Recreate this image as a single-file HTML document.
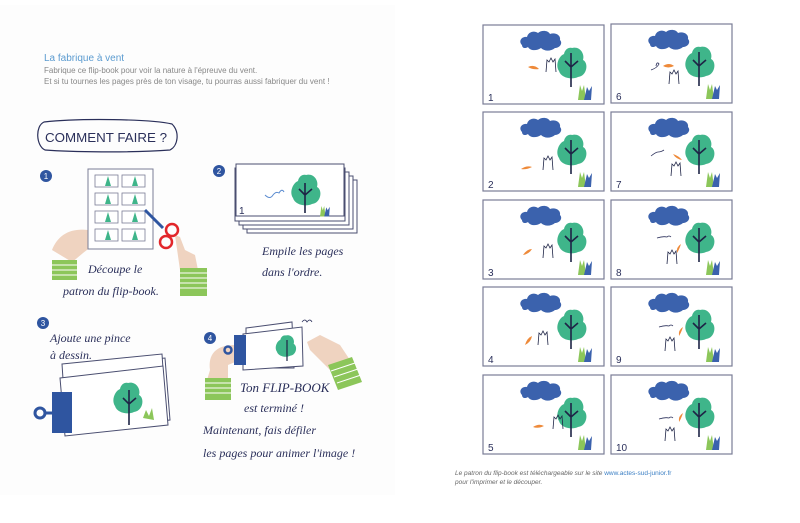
<!DOCTYPE html>
<html><head><meta charset="utf-8"><style>
html,body{margin:0;padding:0;background:#fff;}
body{width:800px;height:523px;overflow:hidden;position:relative;font-family:"Liberation Sans",sans-serif;}
.t{position:absolute;white-space:nowrap;}
.hw{font-family:"Liberation Serif",serif;font-style:italic;color:#2a2f5a;font-size:12px;}
</style></head><body>
<div style="position:absolute;left:0;top:5px;width:395px;height:490px;background:#fdfdfd"></div>
<div class="t" style="left:44px;top:53px;font-size:10px;color:#5b9bd0">La fabrique à vent</div>
<div class="t" style="left:44px;top:66px;font-size:8px;color:#888">Fabrique ce flip-book pour voir la nature à l'épreuve du vent.</div>
<div class="t" style="left:44px;top:77px;font-size:8px;color:#888">Et si tu tournes les pages près de ton visage, tu pourras aussi fabriquer du vent !</div>

<svg width="800" height="523" style="position:absolute;left:0;top:0">
<defs>
 <g id="tree">
  <path d="M0,-15 C8,-17 13,-9 11,-3 C17,0 15,13 6,14 C0,17 -11,15 -13,8 C-17,2 -13,-7 -8,-9 C-7,-14 -3,-16 0,-15Z" fill="#3fb58a"/>
 </g>
 <g id="cloud"><path d="M2,14 C-2,10 2,5 7,6 C8,1 14,-1 18,2 C21,-1 28,-1 30,3 C35,1 41,4 40,9 C43,12 40,17 35,17 C30,21 24,20 21,17 C17,20 10,20 8,16 C5,18 2,17 2,14Z" fill="#3b62ad"/></g>
 <g id="grass"><path d="M0,15 L2,0 L4,6 L6,0 L8,15Z" fill="#8cc65a"/><path d="M6,15 L9,2 L11,6 L14,1 L13,15Z" fill="#3b62ad"/></g>
 <g id="frame">
  <rect x="0" y="0" width="121" height="79" fill="#fff" stroke="#7a7d96" stroke-width="1.2"/>
  <use href="#cloud" x="37" y="6"/>
  <use href="#tree" x="89" y="38"/>
  <path d="M88,28 V62 M88,42 L82,36 M88,42 L95,36" stroke="#1e2446" stroke-width="1.6" fill="none"/>
  <use href="#grass" x="95" y="60"/>
 </g>
 <g id="hand"><path d="M0,14 L1,2 L3,4 L5,0 L7,4 L9,1 L10,14" stroke="#1e2446" stroke-width="0.8" fill="none"/></g>
</defs>

<g font-family="Liberation Sans" font-size="10" fill="#2a2f5a">
<g transform="translate(483,25)"><use href="#frame"/><text x="5" y="76">1</text><path d="M45,42 q6,-3 11,2 q-6,1 -11,-2Z" fill="#ee8a3a"/><use href="#hand" x="63" y="33"/></g>
<g transform="translate(483,112)"><use href="#frame"/><text x="5" y="76">2</text><path d="M38,57 q6,-4 11,-2 q-6,3 -11,2Z" fill="#ee8a3a"/><use href="#hand" x="60" y="44"/></g>
<g transform="translate(483,200)"><use href="#frame"/><text x="5" y="76">3</text><path d="M40,55 q4,-6 9,-6 q-3,5 -9,6Z" fill="#ee8a3a"/><use href="#hand" x="60" y="44"/></g>
<g transform="translate(483,287)"><use href="#frame"/><text x="5" y="76">4</text><path d="M42,58 q2,-7 7,-9 q-1,6 -7,9Z" fill="#ee8a3a"/><use href="#hand" x="55" y="44"/></g>
<g transform="translate(483,375)"><use href="#frame"/><text x="5" y="76">5</text><path d="M50,52 q6,-4 11,-1 q-6,3 -11,1Z" fill="#ee8a3a"/><use href="#hand" x="70" y="40"/></g>
<g transform="translate(611,24)"><use href="#frame"/><text x="5" y="76">6</text><path d="M52,42 q6,-4 11,0 q-6,3 -11,0Z" fill="#ee8a3a"/><use href="#hand" x="58" y="46"/><path d="M40,46 q6,-2 8,-6 q-2,-3 -3,2" stroke="#2a2f5a" fill="none" stroke-width="0.8"/></g>
<g transform="translate(611,112)"><use href="#frame"/><text x="5" y="76">7</text><path d="M62,42 q6,2 9,6 q-6,-1 -9,-6Z" fill="#ee8a3a"/><use href="#hand" x="60" y="50"/><path d="M40,44 q5,-4 7,-4 q3,0 6,-2" stroke="#2a2f5a" fill="none" stroke-width="0.8"/></g>
<g transform="translate(611,200)"><use href="#frame"/><text x="5" y="76">8</text><path d="M70,44 q-2,6 -4,9 q-1,-6 4,-9Z" fill="#ee8a3a"/><use href="#hand" x="56" y="50"/><path d="M46,38 q6,-2 10,-1 q2,-2 4,0" stroke="#2a2f5a" fill="none" stroke-width="0.8"/></g>
<g transform="translate(611,287)"><use href="#frame"/><text x="5" y="76">9</text><path d="M72,40 q-2,6 -4,9 q-1,-6 4,-9Z" fill="#ee8a3a"/><use href="#hand" x="54" y="50"/><path d="M48,40 q6,-2 10,-1 q2,-2 4,0" stroke="#2a2f5a" fill="none" stroke-width="0.8"/></g>
<g transform="translate(611,375)"><use href="#frame"/><text x="5" y="76">10</text><path d="M72,38 q-2,6 -4,9 q-1,-6 4,-9Z" fill="#ee8a3a"/><use href="#hand" x="54" y="52"/><path d="M48,44 q6,-2 10,-1 q2,-2 4,0" stroke="#2a2f5a" fill="none" stroke-width="0.8"/></g>
</g>

<path d="M44,122 C80,118 150,119 172,124 C180,132 178,146 170,150 C130,153 70,152 45,150 C36,146 35,126 44,122Z" fill="none" stroke="#2a2f5a" stroke-width="1.2"/>
<text x="45" y="142" font-family="Liberation Sans" font-size="13" fill="#2a2f5a" textLength="122" lengthAdjust="spacingAndGlyphs">COMMENT FAIRE ?</text>

<g font-family="Liberation Sans" font-size="8" fill="#fff" text-anchor="middle">
<circle cx="46" cy="176" r="6" fill="#2f55a0"/><text x="46" y="179">1</text>
<circle cx="219" cy="171" r="6" fill="#2f55a0"/><text x="219" y="174">2</text>
<circle cx="43" cy="323" r="6" fill="#2f55a0"/><text x="43" y="326">3</text>
<circle cx="210" cy="338" r="6" fill="#2f55a0"/><text x="210" y="341">4</text>
</g>

<path d="M52,250 C58,235 70,228 88,230 L100,238 L95,245 C85,250 78,258 72,262 Z" fill="#efd3c0"/>
<path d="M175,235 L180,237 L185,250 L195,255 L198,270 L180,270 Z" fill="#efd3c0"/>
<rect x="88" y="169" width="65" height="80" fill="#fff" stroke="#7a7d96"/>
<g fill="#fff" stroke="#7a7d96" stroke-width="0.8">
<rect x="95" y="175" width="23" height="12"/><rect x="122" y="175" width="23" height="12"/>
<rect x="95" y="193" width="23" height="12"/><rect x="122" y="193" width="23" height="12"/>
<rect x="95" y="211" width="23" height="12"/><rect x="122" y="211" width="23" height="12"/>
<rect x="95" y="229" width="23" height="12"/><rect x="122" y="229" width="23" height="12"/>
</g>
<g fill="#3fb58a">
<path d="M108,176 l-3,10 h6z M135,176 l-3,10 h6z M108,194 l-3,10 h6z M135,194 l-3,10 h6z M108,212 l-3,10 h6z M135,212 l-3,10 h6z M108,230 l-3,10 h6z M135,230 l-3,10 h6z"/>
</g>
<path d="M145,210 L163,228" stroke="#2f55a0" stroke-width="3"/>
<circle cx="172" cy="230" r="6" fill="none" stroke="#e2262a" stroke-width="2.5"/>
<circle cx="166" cy="242" r="6" fill="none" stroke="#e2262a" stroke-width="2.5"/>
<rect x="52" y="260" width="25" height="20" fill="#8cc65a"/>
<rect x="180" y="268" width="27" height="28" fill="#8cc65a"/>
<g stroke="#fff" stroke-width="1"><path d="M52,265h25M52,270h25M52,275h25M180,273h27M180,278h27M180,283h27M180,288h27"/></g>

<g fill="#fff" stroke="#4a4e70" stroke-width="1">
<rect x="247" y="180" width="110" height="53"/><rect x="243" y="176" width="110" height="53"/><rect x="239" y="172" width="110" height="53"/><rect x="235" y="168" width="110" height="53"/><rect x="236" y="164" width="108" height="52"/>
</g>
<use href="#tree" x="306" y="190"/>
<path d="M305,183 V213 M305,195 L299,189 M305,195 L312,189" stroke="#1e2446" stroke-width="1.6" fill="none"/>
<g transform="translate(320,206) scale(0.7)"><use href="#grass"/></g>
<path d="M265,195 q5,5 8,0 q3,-4 6,-2 q3,-5 5,-1" stroke="#5b8cd0" fill="none" stroke-width="1"/>
<text x="239" y="214" font-family="Liberation Sans" font-size="10" fill="#2a2f5a">1</text>

<g fill="#fff" stroke="#4a4e70" stroke-width="1">
<path d="M65,368 L165,358 L170,420 L70,430 Z"/>
<path d="M62,364 L162,354 L166,414 L66,424 Z"/>
<path d="M60,378 L163,366 L168,425 L65,436 Z"/>
</g>
<use href="#tree" x="128" y="398"/>
<path d="M129,390 V425 M129,404 L123,398 M129,404 L136,398" stroke="#1e2446" stroke-width="1.6" fill="none"/>
<path d="M143,418 l3,-8 l3,6 l3,-8 l2,12z" fill="#8cc65a"/>
<rect x="52" y="392" width="20" height="41" fill="#2f55a0"/>
<circle cx="40" cy="413" r="5" fill="none" stroke="#2f55a0" stroke-width="3"/>
<path d="M45,413h8" stroke="#2f55a0" stroke-width="3"/>

<path d="M210,370 C208,355 215,345 235,345 L240,360 L228,365 L228,380 L207,380 Z" fill="#efd3c0"/>
<path d="M307,342 L320,335 L340,345 L350,360 L330,370 L310,350 Z" fill="#efd3c0"/>
<rect x="205" y="378" width="26" height="22" fill="#8cc65a"/>
<path d="M328,365 L352,357 L362,382 L338,390 Z" fill="#8cc65a"/>
<g stroke="#fff" stroke-width="1"><path d="M205,383h26M205,388h26M205,393h26M331,371l24,-8M334,377l24,-8M337,383l24,-8"/></g>
<g fill="#fff" stroke="#4a4e70" stroke-width="1">
<path d="M246,328 L292,322 L294,368 L246,368Z"/>
<path d="M243,334 L302,327 L303,366 L243,370Z"/>
</g>
<use href="#tree" x="286" y="346" transform="translate(286,346) scale(0.7) translate(-286,-346)"/>
<path d="M287,340 V361" stroke="#1e2446" stroke-width="1.2"/>
<rect x="234" y="335" width="12" height="30" fill="#2f55a0"/>
<circle cx="228" cy="350" r="3.5" fill="none" stroke="#2f55a0" stroke-width="2.5"/>
<path d="M302,322 q3,-4 5,0 q3,-4 5,0" stroke="#2a2f5a" fill="none" stroke-width="0.8"/>
</svg>

<div class="t hw" style="left:88px;top:262px;">Découpe le</div>
<div class="t hw" style="left:63px;top:284px;">patron du flip-book.</div>
<div class="t hw" style="left:262px;top:244px;">Empile les pages</div>
<div class="t hw" style="left:262px;top:265px;">dans l'ordre.</div>
<div class="t hw" style="left:50px;top:331px;">Ajoute une pince</div>
<div class="t hw" style="left:50px;top:348px;">à dessin.</div>
<div class="t hw" style="left:240px;top:380px;font-size:13px;">Ton FLIP-BOOK</div>
<div class="t hw" style="left:244px;top:401px;">est terminé !</div>
<div class="t hw" style="left:203px;top:423px;">Maintenant, fais défiler</div>
<div class="t hw" style="left:203px;top:446px;">les pages pour animer l'image !</div>

<div class="t" style="left:455px;top:470px;font-size:6.5px;color:#666;font-style:italic">Le patron du flip-book est téléchargeable sur le site <span style="color:#3b7fc4;font-style:normal">www.actes-sud-junior.fr</span></div>
<div class="t" style="left:455px;top:479px;font-size:6.5px;color:#666;font-style:italic">pour l'imprimer et le découper.</div>
</body></html>
